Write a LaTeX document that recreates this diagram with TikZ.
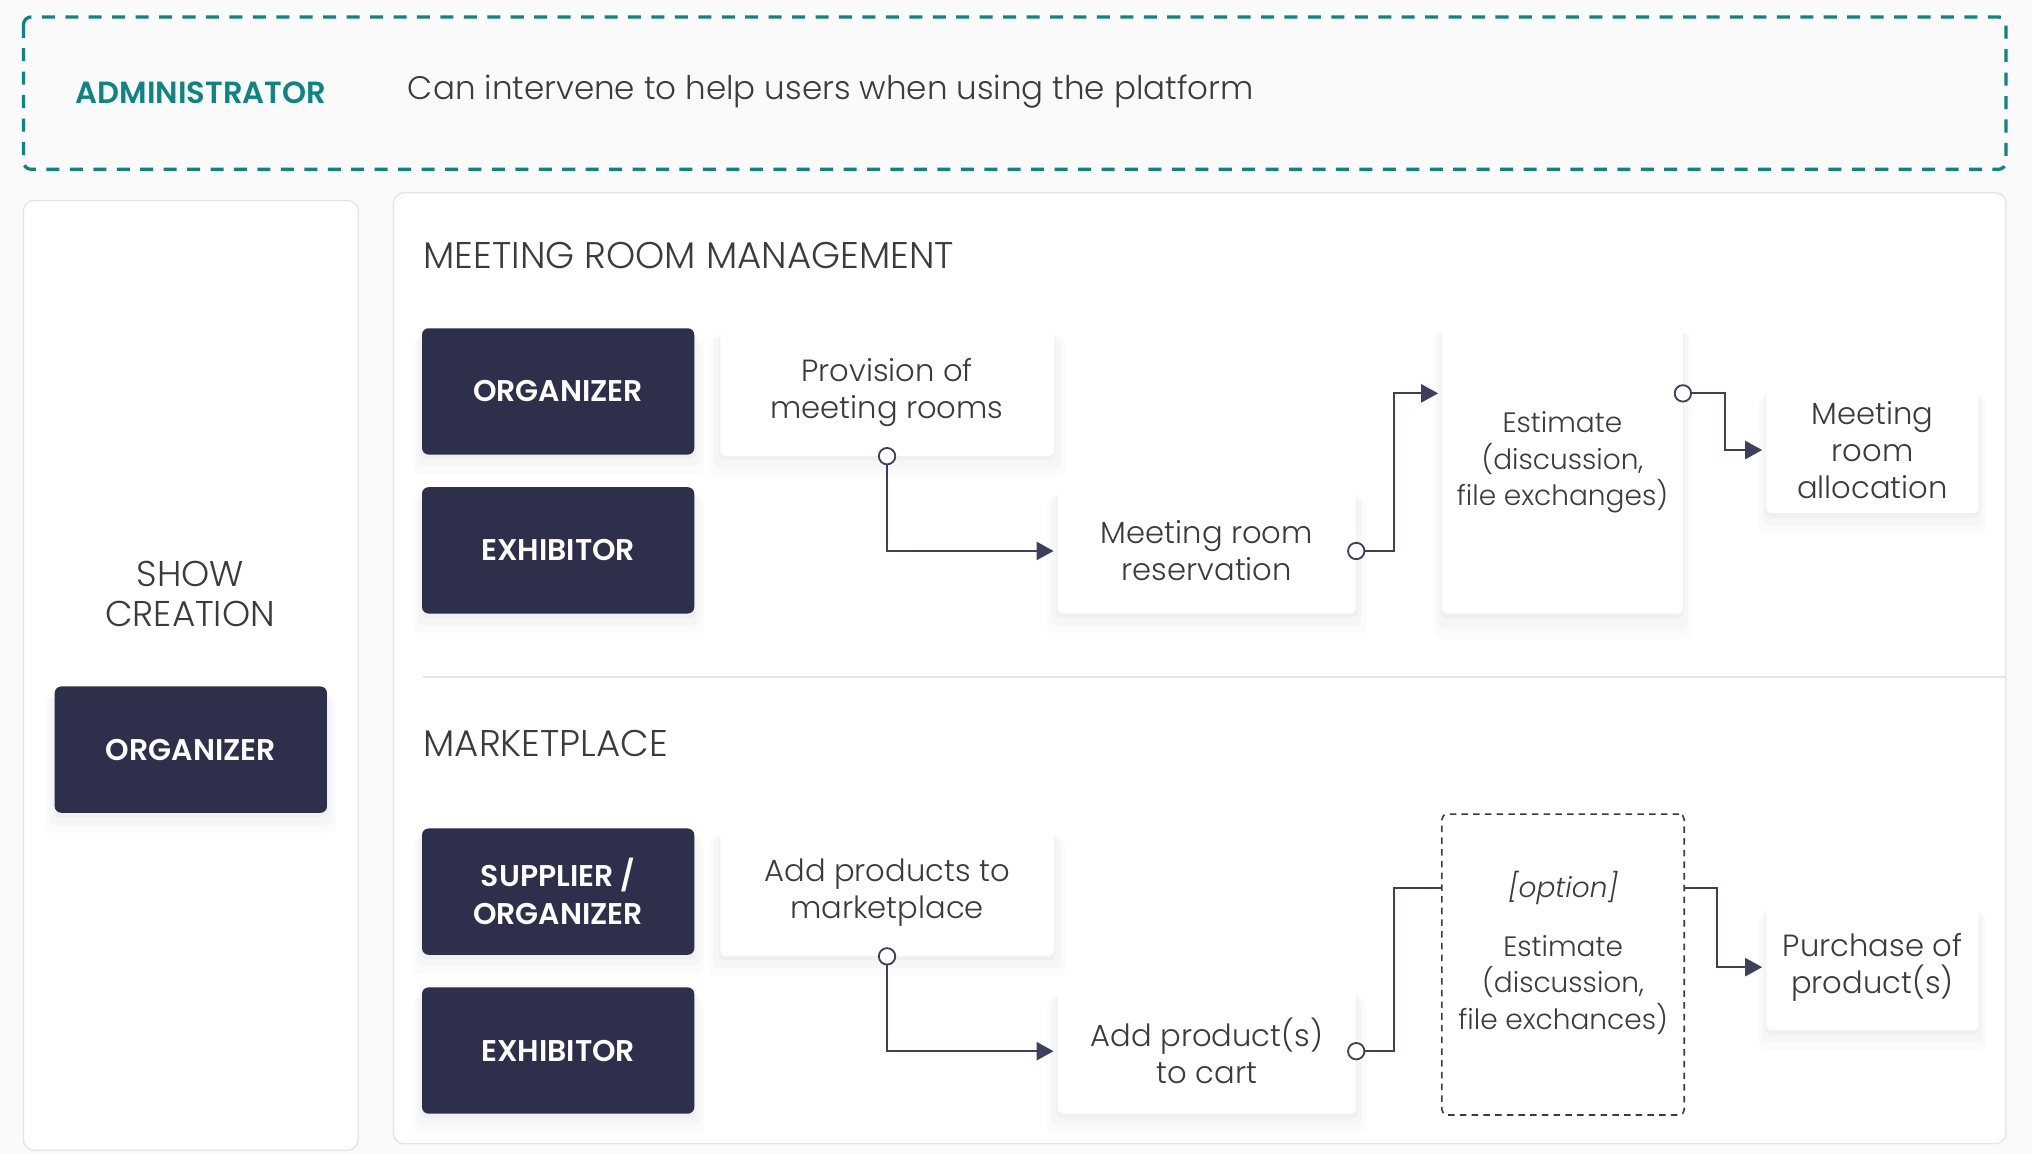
\documentclass[tikz,border=0pt]{standalone}
\usepackage{fontspec}
\setmainfont{Poppins}[UprightFont={Poppins Light}, BoldFont={Poppins SemiBold}, ItalicFont={Poppins Light Italic}]
\usetikzlibrary{arrows.meta, shadows}

\definecolor{navy}{HTML}{2E2F4B}
\definecolor{teal}{HTML}{0E8483}
\definecolor{ink}{HTML}{3B3B3B}
\definecolor{wire}{HTML}{3E3F5C}
\definecolor{rim}{HTML}{E4E4E4}
\definecolor{bg}{HTML}{FAFAFA}

\tikzset{
  soft/.style={drop shadow={shadow xshift=0pt, shadow yshift=-3pt, shadow scale=1.01, opacity=.025, fill=black},
    drop shadow={shadow xshift=0pt, shadow yshift=-7pt, shadow scale=1.04, opacity=.02, fill=black},
    drop shadow={shadow xshift=0pt, shadow yshift=-11pt, shadow scale=1.07, opacity=.015, fill=black}},
  role/.style={fill=navy, rounded corners=5pt, text=white, font=\fontsize{23}{29}\selectfont\bfseries,
    minimum width=209pt, minimum height=97pt, align=center, inner sep=0pt, soft},
  card/.style={fill=white, rounded corners=4pt, text=ink, font=\fontsize{23.5}{28.5}\selectfont,
    align=center, inner sep=0pt, soft},
  note/.style={text=ink, font=\fontsize{21.5}{28}\selectfont, align=center, inner sep=0pt},
  panel/.style={draw=rim, fill=white, line width=1pt, rounded corners=8pt},
  heading/.style={text=ink, font=\fontsize{28.5}{30}\selectfont, inner sep=0pt},
  flow/.style={draw=wire, line width=1.4pt, shorten >=3pt},
  opentip/.style={{Circle[open, length=14pt, width=14pt, fill=white]}-{Triangle[length=13pt, width=14pt]}},
  plaintip/.style={{Circle[open, length=14pt, width=14pt, fill=white]}-},
  arrtip/.style={-{Triangle[length=13pt, width=14pt]}}
}

\begin{document}
\begin{tikzpicture}[x=1pt, y=-1pt]
    \useasboundingbox (0,0) rectangle (1560,886);
    \fill[bg] (0,0) rectangle (1560,886);

    \draw[teal, line width=2.5pt, dash pattern=on 10pt off 8pt, rounded corners=6pt, fill=bg] (18,13) rectangle (1540,130);
    \node[text=teal, font=\fontsize{23.5}{26}\selectfont\bfseries, anchor=west, inner sep=0pt] (admin) at (58,71) {ADMINISTRATOR};
    \node[text=ink, font=\fontsize{25}{28}\selectfont, anchor=west, inner sep=0pt] (admintxt) at (313,70) {Can intervene to help users when using the platform};

    \draw[panel] (18,154) rectangle (275,883);
    \node[heading, align=center, font=\fontsize{27.5}{30}\selectfont] (show) at (146,456) {SHOW\\CREATION};
    \node[role] (showorg) at (146.5,575.5) {ORGANIZER};

    \draw[panel] (302,148) rectangle (1540,878);
    \node[heading, anchor=west] (mrm) at (325,196) {MEETING ROOM MANAGEMENT};
    \draw[rim, line width=1.5pt] (325,520) -- (1540,520);
    \node[heading, anchor=west] (mkt) at (325,571) {MARKETPLACE};

    \node[role] (org) at (428.5,300.5) {ORGANIZER};
    \node[role] (exh) at (428.5,422.5) {EXHIBITOR};
    \node[card, minimum width=256pt, minimum height=98pt] (prov) at (681,301) {Provision of\\meeting rooms};
    \node[card, minimum width=229pt, minimum height=96pt] (resv) at (926.5,423) {Meeting room\\reservation};
    \node[card, minimum width=185pt, minimum height=219pt] (est) at (1199.5,361.5) {};
    \node[note] (esttxt) at (1199.5,355) {Estimate\\(discussion,\\file exchanges)};
    \node[card, minimum width=163pt, minimum height=97pt] (alloc) at (1437.5,345.5) {Meeting\\room\\allocation};
    \coordinate (estin) at (1107,302);
    \coordinate (estout) at (1292,302);

    \draw[flow, opentip] ([yshift=7pt]prov.south) |- (resv.west);
    \draw[flow, opentip] ([xshift=-7pt]resv.east) -- ++(36,0) |- (estin);
    \draw[flow, opentip] ([xshift=-7pt]estout) -- ++(39,0) |- (alloc.west);

    \node[role] (sup) at (428.5,684.5) {SUPPLIER /\\ORGANIZER};
    \node[role] (exhb) at (428.5,806.5) {EXHIBITOR};
    \node[card, minimum width=256pt, minimum height=98pt] (addmk) at (681,685) {Add products to\\marketplace};
    \node[card, minimum width=229pt, minimum height=96pt] (cart) at (926.5,807) {Add product(s)\\to cart};
    \node[draw=ink, line width=1.2pt, dash pattern=on 5pt off 4pt, rounded corners=4pt, fill=white,
      minimum width=186pt, minimum height=231pt] (opt) at (1200,740.5) {};
    \node[note, font=\fontsize{21.5}{28}\selectfont\itshape] (optlbl) at (1200,682) {[option]};
    \node[note] (optest) at (1200,756) {Estimate\\(discussion,\\file exchances)};
    \node[card, minimum width=163pt, minimum height=97pt] (buy) at (1437.5,742.5) {Purchase of\\product(s)};
    \coordinate (optin) at (1107,682);
    \coordinate (optout) at (1293,682);

    \draw[flow, opentip] ([yshift=7pt]addmk.south) |- (cart.west);
    \draw[flow, plaintip, shorten >=0pt] ([xshift=-7pt]cart.east) -- ++(36,0) |- (optin);
    \draw[flow, arrtip] (optout) -- ++(25,0) |- (buy.west);
\end{tikzpicture}
\end{document}
